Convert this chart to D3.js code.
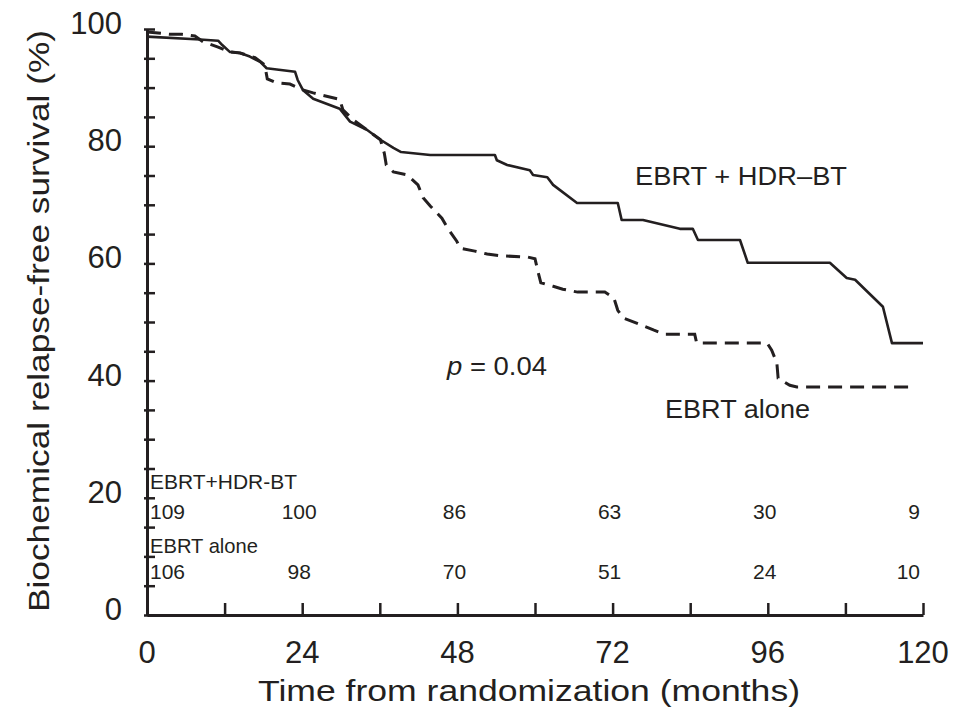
<!DOCTYPE html>
<html>
<head>
<meta charset="utf-8">
<script src="https://cdn.jsdelivr.net/npm/d3@7"></script>
<style>
  body { margin: 0; background: #fff; }
  text { font-family: "Liberation Sans", Arial, Helvetica, sans-serif; fill: #231f20; }
</style>
</head>
<body>
<svg id="chart" width="955" height="717"></svg>
<script>
// Kaplan-Meier curves (months, % relapse-free)
const hdrMonths = [0, 8.2, 11.0, 11.6, 12.8, 14.4, 15.9, 17.5, 18.5, 22.9, 23.3, 24.1, 25.7, 29.8, 30.6, 31.4,
  34.0, 36.1, 38.1, 39.3, 43.8, 53.8, 54.1, 55.7, 59.2, 59.7, 61.9, 62.8, 66.5, 72.8, 73.4, 76.7, 82.4,
  84.4, 85.2, 91.7, 92.9, 105.6, 108.2, 109.5, 113.8, 115.2, 120];
const hdrSurv = [98.7, 98.2, 98.0, 97.3, 96.1, 95.9, 95.3, 94.4, 93.3, 92.7, 91.3, 89.6, 88.1, 86.4, 85.3, 84.2,
  82.8, 81.1, 79.7, 79.0, 78.5, 78.5, 77.6, 76.8, 75.9, 75.1, 74.7, 73.4, 70.3, 70.3, 67.4, 67.4, 65.9,
  65.9, 64.0, 64.0, 60.1, 60.1, 57.5, 57.2, 52.6, 46.4, 46.4];

const aloneMonths = [0, 3.6, 5.4, 7.4, 8.7, 11.0, 12.8, 14.4, 16.7, 18.2, 18.6, 20.1, 22.1, 24.1, 25.7, 27.1,
  29.8, 30.3, 31.9, 34.0, 36.1, 36.7, 37.0, 38.1, 40.2, 41.9, 42.7, 43.8, 45.6, 46.5, 47.9, 48.4, 50.7,
  52.6, 54.6, 58.8, 60.0, 60.5, 60.9, 62.8, 64.3, 66.6, 70.8, 72.2, 72.8, 73.6, 74.8, 76.4, 78.4, 80.1,
  84.7, 85.0, 95.9, 96.6, 97.4, 97.6, 99.4, 100.5, 118.8];
const aloneSurv = [99.5, 99.1, 99.1, 98.8, 97.8, 96.9, 96.1, 95.9, 95.1, 93.9, 91.5, 90.8, 90.6, 89.6, 89.1, 88.7,
  88.0, 86.2, 84.5, 82.8, 81.1, 78.8, 76.8, 75.6, 75.1, 73.4, 71.2, 69.8, 67.7, 66.0, 63.8, 62.6, 62.1,
  61.6, 61.3, 61.1, 60.8, 58.4, 56.7, 56.1, 55.6, 55.1, 55.1, 54.1, 52.0, 50.7, 50.2, 49.5, 48.6, 47.9,
  47.9, 46.4, 46.4, 45.2, 43.0, 40.4, 39.2, 38.9, 38.9];

// number at risk
const riskTimes = [0, 24, 48, 72, 96, 120];
const riskHdr = [109, 100, 86, 63, 30, 9];
const riskAlone = [106, 98, 70, 51, 24, 10];

const xTickValues = [0, 12, 24, 36, 48, 60, 72, 84, 96, 108, 120];
const xLabelValues = [0, 24, 48, 72, 96, 120];
const yTickValues = [0, 5, 10, 15, 20, 25, 30, 35, 40, 45, 50, 55, 60, 65, 70, 75, 80, 85, 90, 95, 100];
const yLabelValues = [0, 20, 40, 60, 80, 100];

const svg = d3.select('#chart');
const x = d3.scaleLinear().domain([0, 120]).range([147, 923]);
const y = d3.scaleLinear().domain([0, 100]).range([615, 29]);
const ink = '#231f20';

// x axis, ticks pointing up into the plot
const xAxis = svg.append('g')
  .attr('transform', `translate(0,${y(0)})`)
  .call(d3.axisBottom(x).tickValues(xTickValues).tickSizeInner(-12).tickSizeOuter(0).tickFormat(''));
xAxis.select('.domain').attr('stroke', ink).attr('stroke-width', 3);
xAxis.selectAll('.tick line').attr('stroke', ink).attr('stroke-width', 2.5);

// y axis, ticks mostly inward
const yAxis = svg.append('g')
  .attr('transform', `translate(${x(0)},0)`)
  .call(d3.axisLeft(y).tickValues(yTickValues).tickSizeInner(-8).tickSizeOuter(0).tickFormat(''));
yAxis.select('.domain').attr('stroke', ink).attr('stroke-width', 3);
yAxis.selectAll('.tick line').attr('x1', -3).attr('stroke', ink).attr('stroke-width', 2.5);

svg.append('g').selectAll('text')
  .data(yLabelValues).enter().append('text')
  .attr('x', 122).attr('y', d => y(d) + 5)
  .attr('text-anchor', 'end')
  .style('font-size', '31px')
  .text(d => d);

svg.append('g').selectAll('text')
  .data(xLabelValues).enter().append('text')
  .attr('x', d => x(d)).attr('y', 663)
  .attr('text-anchor', 'middle')
  .style('font-size', '31px')
  .text(d => d);

svg.append('text')
  .attr('x', 529).attr('y', 701)
  .attr('text-anchor', 'middle')
  .attr('textLength', 542).attr('lengthAdjust', 'spacingAndGlyphs')
  .style('font-size', '30px')
  .text('Time from randomization (months)');

svg.append('text')
  .attr('transform', 'translate(49,321) rotate(-90)')
  .attr('text-anchor', 'middle')
  .attr('textLength', 582).attr('lengthAdjust', 'spacingAndGlyphs')
  .style('font-size', '30px')
  .text('Biochemical relapse-free survival  (%)');

// curves
const line = d3.line().x(d => x(d[0])).y(d => y(d[1]));

svg.append('path')
  .datum(d3.zip(aloneMonths, aloneSurv))
  .attr('fill', 'none').attr('stroke', ink)
  .attr('stroke-width', 3).attr('stroke-dasharray', '14,8')
  .attr('d', line);

svg.append('path')
  .datum(d3.zip(hdrMonths, hdrSurv))
  .attr('fill', 'none').attr('stroke', ink)
  .attr('stroke-width', 2.6).attr('stroke-linejoin', 'round')
  .attr('d', line);

// curve labels
svg.append('text').attr('x', 635).attr('y', 185)
  .attr('textLength', 212).attr('lengthAdjust', 'spacingAndGlyphs')
  .style('font-size', '26px').text('EBRT + HDR\u2013BT');
svg.append('text').attr('x', 665).attr('y', 418)
  .attr('textLength', 145).attr('lengthAdjust', 'spacingAndGlyphs')
  .style('font-size', '26px').text('EBRT alone');

const pText = svg.append('text').attr('x', 447).attr('y', 375)
  .attr('textLength', 100).attr('lengthAdjust', 'spacingAndGlyphs')
  .style('font-size', '25px');
pText.append('tspan').style('font-style', 'italic').text('p');
pText.append('tspan').text(' = 0.04');

// number-at-risk table
function riskRow(values, yPos) {
  svg.append('g').selectAll('text')
    .data(values).enter().append('text')
    .attr('x', (d, i) => i === 0 ? 150 : i === values.length - 1 ? x(riskTimes[i]) - 3 : x(riskTimes[i]) - 3)
    .attr('y', yPos)
    .attr('text-anchor', (d, i) => i === 0 ? 'start' : i === values.length - 1 ? 'end' : 'middle')
    .style('font-size', '21px')
    .text(d => d);
}
svg.append('text').attr('x', 150).attr('y', 489)
  .attr('textLength', 147).attr('lengthAdjust', 'spacingAndGlyphs')
  .style('font-size', '21px').text('EBRT+HDR-BT');
riskRow(riskHdr, 519);
svg.append('text').attr('x', 150).attr('y', 553)
  .attr('textLength', 108).attr('lengthAdjust', 'spacingAndGlyphs')
  .style('font-size', '21px').text('EBRT alone');
riskRow(riskAlone, 579);
</script>
</body>
</html>
